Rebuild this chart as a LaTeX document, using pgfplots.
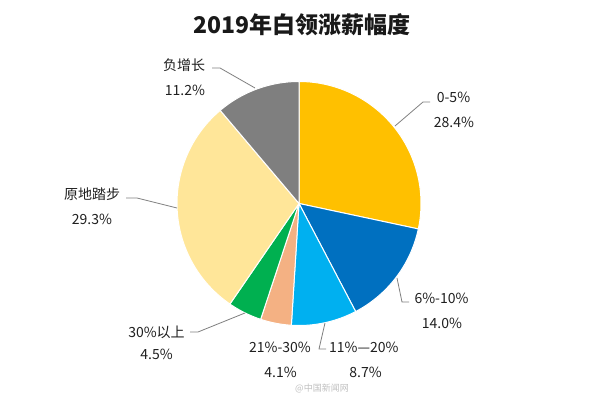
\documentclass[border=0pt]{standalone}
\usepackage{pgfplots}
\pgfplotsset{compat=1.18}
\usepackage{fontspec}
\setmainfont{Noto Sans CJK SC}
\definecolor{c1}{HTML}{FFC000}
\definecolor{c2}{HTML}{0070C0}
\definecolor{c3}{HTML}{00B0F0}
\definecolor{c4}{HTML}{F4B183}
\definecolor{c5}{HTML}{00B050}
\definecolor{c6}{HTML}{FFE699}
\definecolor{c7}{HTML}{7F7F7F}
\definecolor{txt}{HTML}{1F1F1F}
\definecolor{lead}{HTML}{7F7F7F}
\begin{document}
\begin{tikzpicture}
\begin{axis}[scale only axis, width=600pt, height=393pt,
  xmin=0, xmax=600, ymin=0, ymax=393, hide axis, clip=false]
\def\total{100.2}
\def\cum{0}
\pgfplotsforeachungrouped \v/\col in {28.4/c1,14.0/c2,8.7/c3,4.1/c4,4.5/c5,29.3/c6,11.2/c7}{
  \pgfmathsetmacro\angA{90-\cum/\total*360}
  \pgfmathsetmacro\cum{\cum+\v}
  \pgfmathsetmacro\angB{90-\cum/\total*360}
  \edef\temp{\noexpand\addplot[fill=\col, draw=white, line width=1pt, line join=round,
    domain=\angB:\angA, samples=80, variable=\noexpand\t]
    ({299+122*cos(\noexpand\t)},{189.5+122*sin(\noexpand\t)}) -- (axis cs:299,189.5) -- cycle;}
  \temp
}
% leader lines
\draw[lead, line width=0.8pt] (axis cs:395,267) -- (axis cs:423,291) -- (axis cs:430,291);
\draw[lead, line width=0.8pt] (axis cs:397,115) -- (axis cs:402,91) -- (axis cs:409,91);
\draw[lead, line width=0.8pt] (axis cs:325,70) -- (axis cs:319,44) -- (axis cs:326,44);
\draw[lead, line width=0.8pt] (axis cs:245,80) -- (axis cs:198,61) -- (axis cs:190,61);
\draw[lead, line width=0.8pt] (axis cs:177,185) -- (axis cs:137,195) -- (axis cs:126,195);
\draw[lead, line width=0.8pt] (axis cs:255,305) -- (axis cs:220,325) -- (axis cs:212,325);
% labels
\begin{scope}[every node/.style={font=\fontsize{14}{16}\selectfont, text=txt, inner sep=0pt}]
\node at (axis cs:453.5,296) {0-5\%};
\node at (axis cs:454,271) {28.4\%};
\node at (axis cs:441.5,95) {6\%-10\%};
\node at (axis cs:442,70) {14.0\%};
\node[anchor=west] at (axis cs:329,46) {11\%—20\%};
\node at (axis cs:365.5,21) {8.7\%};
\node at (axis cs:280,46) {21\%-30\%};
\node at (axis cs:280.5,21) {4.1\%};
\node at (axis cs:156.5,61) {30\%以上};
\node at (axis cs:156.5,39) {4.5\%};
\node at (axis cs:92,199) {原地踏步};
\node at (axis cs:92,174) {29.3\%};
\node at (axis cs:184,328) {负增长};
\node at (axis cs:185,303) {11.2\%};
\end{scope}
\node[font=\fontsize{23}{27}\selectfont\bfseries, text=black!90] at (axis cs:302,368) {2019年白领涨薪幅度};
\node[font=\fontsize{9}{11}\selectfont, text=black!25, inner sep=0pt] at (axis cs:322,5) {@中国新闻网};
\end{axis}
\pgfresetboundingbox
\path[use as bounding box] (current axis.south west) rectangle (current axis.north east);
\end{tikzpicture}
\end{document}
